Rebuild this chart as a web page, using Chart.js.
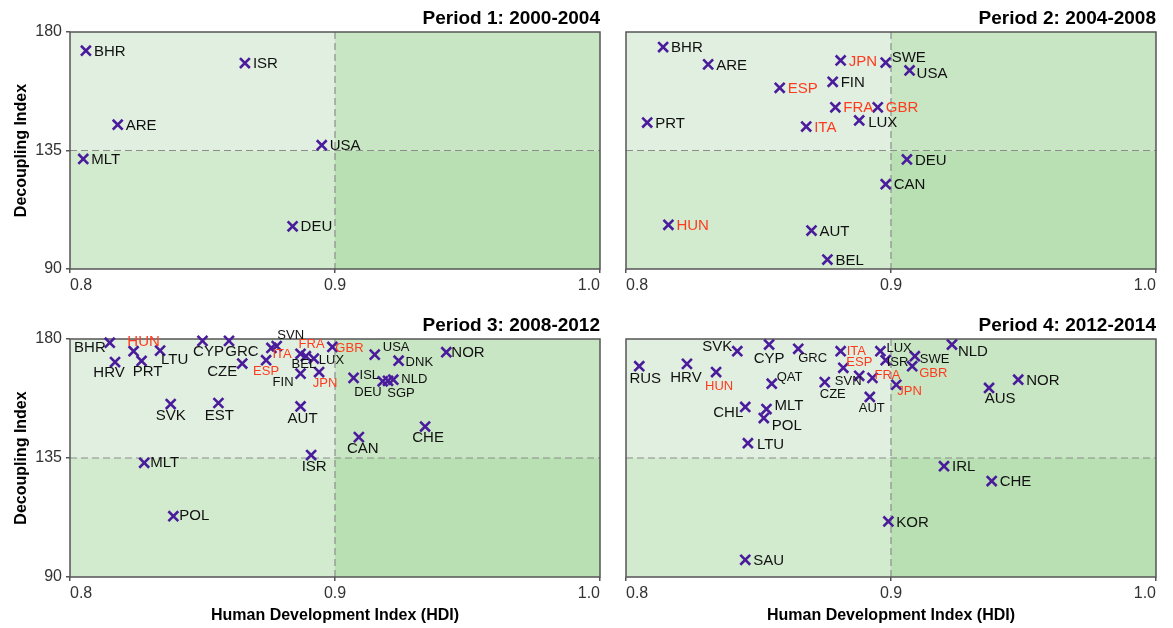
<!DOCTYPE html>
<html>
<head>
<meta charset="utf-8">
<script src="https://cdn.jsdelivr.net/npm/chart.js@4.4.0/dist/chart.umd.min.js"></script>
<style>
  body { margin: 0; background: #fff; }
  #wrap { position: relative; width: 1173px; height: 628px; overflow: hidden; }
  canvas { position: absolute; }
</style>
</head>
<body>
<div id="wrap">
  <canvas id="p1" width="610" height="300" style="left:0;top:0"></canvas>
  <canvas id="p2" width="610" height="300" style="left:556px;top:0"></canvas>
  <canvas id="p3" width="610" height="321" style="left:0;top:307px"></canvas>
  <canvas id="p4" width="610" height="321" style="left:556px;top:307px"></canvas>
</div>
<script>
// axis ticks
var hdiTicks = [0.8, 0.9, 1.0];
var dciTicks = [90, 135, 180];
var hdiSplit = 0.9, dciSplit = 135;

// Period 1: 2000-2004
var p1Codes = ['BHR', 'ISR', 'ARE', 'USA', 'MLT', 'DEU'];
var p1Hdi = [0.806, 0.866, 0.818, 0.895, 0.805, 0.884];
var p1Dci = [172.9, 168.2, 144.8, 137.0, 131.8, 106.2];

// Period 2: 2004-2008
var p2Codes = ['BHR', 'ARE', 'JPN', 'SWE', 'USA', 'FIN', 'ESP', 'FRA', 'GBR', 'PRT', 'LUX', 'ITA', 'DEU', 'CAN', 'HUN', 'AUT', 'BEL'];
var p2Hdi = [0.814, 0.831, 0.881, 0.898, 0.907, 0.878, 0.858, 0.879, 0.895, 0.808, 0.888, 0.868, 0.906, 0.898, 0.816, 0.870, 0.876];
var p2Dci = [174.3, 167.7, 169.2, 168.4, 165.4, 161.1, 158.8, 151.4, 151.4, 145.6, 146.4, 144.1, 131.6, 122.2, 106.8, 104.6, 93.6];

// Period 3: 2008-2012
var p3Codes = ['BHR', 'HUN', 'LTU', 'HRV', 'PRT', 'CYP', 'GRC', 'CZE', 'ESP', 'ITA', 'SVN', 'FRA', 'BEL', 'LUX', 'GBR', 'FIN',
  'JPN', 'AUT', 'ISR', 'ISL', 'DEU', 'SGP', 'NLD', 'USA', 'DNK', 'CAN', 'CHE', 'NOR', 'SVK', 'EST', 'MLT', 'POL'];
var p3Hdi = [0.815, 0.824, 0.834, 0.817, 0.827, 0.850, 0.860, 0.865, 0.874, 0.876, 0.878, 0.887, 0.889, 0.892, 0.899, 0.887,
  0.894, 0.887, 0.891, 0.907, 0.918, 0.920, 0.922, 0.915, 0.924, 0.909, 0.934, 0.942, 0.838, 0.856, 0.828, 0.839];
var p3Dci = [178.6, 175.4, 175.6, 171.3, 171.7, 179.3, 179.3, 170.7, 172.0, 176.6, 177.3, 174.4, 173.5, 172.6, 177.0, 166.9,
  167.5, 154.5, 136.1, 165.3, 164.0, 164.2, 164.6, 174.1, 171.8, 142.9, 146.9, 175.0, 155.4, 155.8, 133.2, 113.0];

// Period 4: 2012-2014
var p4Codes = ['RUS', 'HRV', 'SVK', 'CYP', 'HUN', 'GRC', 'QAT', 'ITA', 'ESP', 'CZE', 'SVN', 'FRA', 'AUT', 'LUX', 'ISR', 'JPN',
  'SWE', 'GBR', 'NLD', 'AUS', 'NOR', 'CHL', 'MLT', 'POL', 'LTU', 'IRL', 'CHE', 'KOR', 'SAU'];
var p4Hdi = [0.805, 0.823, 0.842, 0.854, 0.834, 0.865, 0.855, 0.881, 0.882, 0.875, 0.888, 0.893, 0.892, 0.896, 0.898, 0.902,
  0.909, 0.908, 0.923, 0.937, 0.948, 0.845, 0.853, 0.852, 0.846, 0.920, 0.938, 0.899, 0.845];
var p4Dci = [169.7, 170.6, 175.4, 177.9, 167.5, 176.3, 163.1, 175.4, 169.1, 163.7, 166.1, 165.3, 158.1, 175.4, 172.0, 162.7,
  173.5, 169.7, 177.9, 161.5, 164.6, 154.3, 153.5, 150.1, 140.6, 131.9, 126.3, 111.0, 96.5];

// countries drawn in red
var redCodes = ['JPN', 'ESP', 'FRA', 'GBR', 'ITA', 'HUN'];

// label placement: [align, dx, dy, font size]
var defPlace = ['left', 8, 1, 15];
var p1Place = {};
var p2Place = { SWE: ['left', 6, -5, 15], USA: ['left', 7, 3, 15], LUX: ['left', 9, 2, 15] };
var p3Place = {
  BHR: ['right', -4, 5, 15], HUN: ['center', 10, -9, 15], LTU: ['left', 1, 9, 15], HRV: ['center', -6, 11, 15],
  PRT: ['center', 6, 11, 15], CYP: ['center', 6, 11, 15], GRC: ['center', 13, 11, 15], CZE: ['right', -5, 8, 15],
  ESP: ['center', 0, 11, 13], ITA: ['left', 1, 6, 13], SVN: ['center', 14, -11, 13], FRA: ['left', -2, -9, 13],
  BEL: ['center', -2, 8, 13], LUX: ['left', 5, 2, 13], GBR: ['left', 3, 1, 13], FIN: ['right', -7, 9, 13],
  JPN: ['center', 6, 11, 13], AUT: ['center', 2, 12, 15], ISR: ['center', 3, 12, 15], ISL: ['left', 6, -2, 13],
  USA: ['left', 8, -7, 13], DNK: ['left', 7, 2, 13], NLD: ['left', 8, 0, 13], DEU: ['right', -1, 11, 13],
  SGP: ['center', 13, 13, 13], CAN: ['center', 4, 12, 15], CHE: ['center', 3, 11, 15], NOR: ['left', 5, 1, 15],
  SVK: ['center', 0, 12, 15], EST: ['center', 1, 13, 15], MLT: ['left', 6, 0, 15], POL: ['left', 6, 0, 15]
};
var p4Place = {
  RUS: ['center', 6, 13, 15], HRV: ['center', -1, 14, 15], SVK: ['right', -5, -4, 15], CYP: ['center', 0, 14, 15],
  HUN: ['center', 3, 14, 13], GRC: ['left', 0, 10, 13], QAT: ['left', 5, -6, 13], ITA: ['left', 6, 0, 13],
  ESP: ['left', 3, -5, 13], CZE: ['center', 8, 12, 13], SVN: ['center', -11, 6, 13], FRA: ['left', 2, -2, 13],
  AUT: ['center', 2, 12, 13], LUX: ['left', 6, -3, 13], ISR: ['left', 1, 2, 13], JPN: ['left', 1, 7, 13],
  SWE: ['left', 5, 3, 13], GBR: ['left', 7, 7, 13], NLD: ['left', 6, 7, 15], AUS: ['center', 11, 11, 15],
  NOR: ['left', 8, 1, 15], CHL: ['right', -2, 6, 15], MLT: ['left', 8, -3, 15], POL: ['left', 8, 8, 15],
  LTU: ['left', 9, 2, 15]
};

var FONT = "'Liberation Sans', Arial, Helvetica, sans-serif";

var quadPlugin = {
  id: 'quadrants',
  beforeDatasetsDraw: function(chart) {
    var ctx = chart.ctx, a = chart.chartArea;
    var mx = chart.scales.x.getPixelForValue(hdiSplit);
    var my = chart.scales.y.getPixelForValue(dciSplit);
    ctx.save();
    ctx.fillStyle = '#e1efe0'; ctx.fillRect(a.left, a.top, mx - a.left, my - a.top);
    ctx.fillStyle = '#c8e6c3'; ctx.fillRect(mx, a.top, a.right - mx, my - a.top);
    ctx.fillStyle = '#d2ebcf'; ctx.fillRect(a.left, my, mx - a.left, a.bottom - my);
    ctx.fillStyle = '#b8e0b2'; ctx.fillRect(mx, my, a.right - mx, a.bottom - my);
    ctx.strokeStyle = '#8c8c8c';
    ctx.lineWidth = 1.2;
    ctx.setLineDash([7, 4]);
    ctx.beginPath();
    ctx.moveTo(mx, a.top); ctx.lineTo(mx, a.bottom);
    ctx.moveTo(a.left, my); ctx.lineTo(a.right, my);
    ctx.stroke();
    ctx.setLineDash([]);
    ctx.strokeStyle = '#555';
    ctx.lineWidth = 1.5;
    ctx.strokeRect(a.left, a.top, a.right - a.left, a.bottom - a.top);
    ctx.restore();
  },
  afterDatasetsDraw: function(chart, args, opts) {
    var ctx = chart.ctx;
    var pts = chart.getDatasetMeta(0).data;
    ctx.save();
    ctx.textBaseline = 'middle';
    pts.forEach(function(pt, i) {
      var code = opts.codes[i];
      var p = opts.place[code] || defPlace;
      ctx.font = p[3] + 'px ' + FONT;
      ctx.textAlign = p[0];
      ctx.fillStyle = redCodes.indexOf(code) >= 0 ? '#ff3b1f' : '#111';
      ctx.fillText(code, pt.x + p[1], pt.y + p[2]);
    });
    ctx.restore();
  }
};

function makePanel(id, title, codes, hdi, dci, place, showY, bottomRow) {
  var pts = hdi.map(function(v, i) { return { x: v, y: dci[i] }; });
  var h = document.getElementById(id).height;
  new Chart(document.getElementById(id), {
    type: 'scatter',
    data: {
      datasets: [{
        data: pts,
        pointStyle: 'crossRot',
        pointRadius: 7,
        pointBorderWidth: 2.6,
        borderColor: '#4a1c9c',
        backgroundColor: '#4a1c9c',
        clip: false
      }]
    },
    options: {
      responsive: false,
      animation: false,
      events: [],
      layout: { padding: { left: 0, right: 10, top: 0, bottom: 0 } },
      plugins: {
        legend: { display: false },
        tooltip: { enabled: false },
        title: {
          display: true,
          text: title,
          align: 'end',
          color: '#000',
          font: { family: FONT, size: 19, weight: 'bold', lineHeight: 1.2 },
          padding: { top: 7, bottom: 2.2 }
        },
        quadrants: { codes: codes, place: place }
      },
      scales: {
        x: {
          type: 'linear',
          min: hdiTicks[0],
          max: hdiTicks[hdiTicks.length - 1],
          afterBuildTicks: function(s) { s.ticks = hdiTicks.map(function(v) { return { value: v }; }); },
          afterFit: function(s) { s.height = bottomRow ? h - 270 : h - 269; },
          ticks: {
            align: 'inner',
            padding: 3,
            color: '#333',
            font: { family: FONT, size: 16 },
            callback: function(v) { return Number(v).toFixed(1); }
          },
          grid: { drawOnChartArea: false, drawTicks: true, tickLength: 4, tickColor: '#555', lineWidth: 1.5 },
          border: { display: false },
          title: {
            display: bottomRow,
            text: 'Human Development Index (HDI)',
            color: '#000',
            font: { family: FONT, size: 16, weight: 'bold', lineHeight: 1.2 },
            padding: { top: 0, bottom: 2.4 }
          }
        },
        y: {
          type: 'linear',
          min: dciTicks[0],
          max: dciTicks[dciTicks.length - 1],
          afterBuildTicks: function(s) { s.ticks = dciTicks.map(function(v) { return { value: v }; }); },
          afterFit: function(s) { s.width = 70; },
          ticks: {
            display: showY,
            padding: 4,
            color: '#333',
            font: { family: FONT, size: 16 }
          },
          grid: { drawOnChartArea: false, drawTicks: showY, tickLength: 4, tickColor: '#555', lineWidth: 1.5 },
          border: { display: false },
          title: {
            display: showY,
            text: 'Decoupling Index',
            color: '#000',
            font: { family: FONT, size: 16, weight: 'bold', lineHeight: 1.2 },
            padding: { top: 12.4, bottom: 0 }
          }
        }
      }
    },
    plugins: [quadPlugin]
  });
}

makePanel('p1', 'Period 1: 2000-2004', p1Codes, p1Hdi, p1Dci, p1Place, true, false);
makePanel('p2', 'Period 2: 2004-2008', p2Codes, p2Hdi, p2Dci, p2Place, false, false);
makePanel('p3', 'Period 3: 2008-2012', p3Codes, p3Hdi, p3Dci, p3Place, true, true);
makePanel('p4', 'Period 4: 2012-2014', p4Codes, p4Hdi, p4Dci, p4Place, false, true);
</script>
</body>
</html>
